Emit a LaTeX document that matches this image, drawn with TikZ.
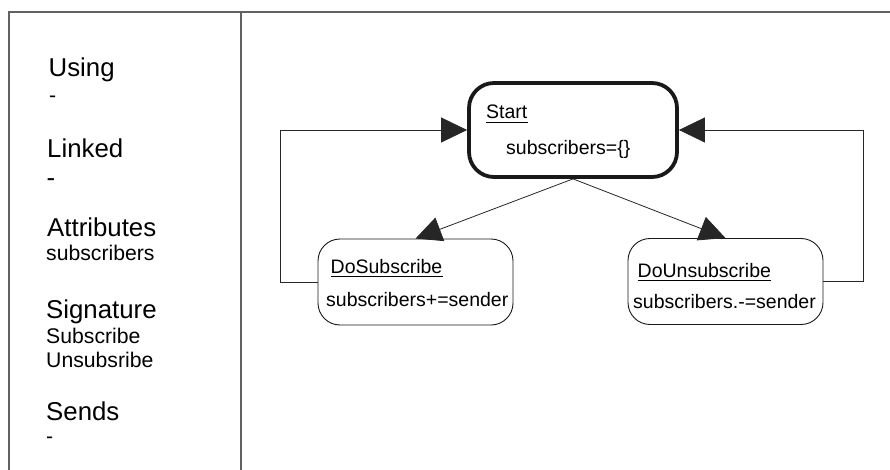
\documentclass[tikz,border=0pt]{standalone}
\usepackage{fontspec}
\setmainfont{Liberation Sans}
\usetikzlibrary{arrows.meta}
\begin{document}
\begin{tikzpicture}[x=1pt,y=-1pt,
  frameline/.style={line width=1.5pt,draw=black!62},
  hdr/.style={anchor=base west,inner sep=0pt,font=\fontsize{25.8}{30}\selectfont},
  sml/.style={anchor=base west,inner sep=0pt,font=\fontsize{21.2}{24}\selectfont},
  btxt/.style={anchor=base west,inner sep=0pt,font=\fontsize{19.5}{23}\selectfont},
  startbox/.style={draw=black!90,line width=3.8pt,rounded corners=25pt,minimum width=208pt,minimum height=94pt,inner sep=0pt},
  statebox/.style={draw=black!90,line width=0.9pt,rounded corners=22pt,minimum width=195pt,minimum height=86pt,inner sep=0pt},
  conn/.style={draw=black!85,line width=0.8pt,-{Triangle[length=26pt,width=25pt]}},
  uline/.style={draw=black,line width=0.9pt}]
\useasboundingbox (0,0) rectangle (890,470);
% frame
\draw[frameline] (9,470) -- (9,12) -- (890,12);
\draw[frameline] (241,12) -- (241,470);
% left panel
\node[hdr] (using) at (48.5,77) {Using};
\node[sml] (usingv) at (49,103) {-};
\node[hdr] (linked) at (47,158) {Linked};
\node[hdr] (linkedv) at (46.5,187) {-};
\node[hdr] (attr) at (47,236) {Attributes};
\node[sml] (attrv) at (46,260) {subscribers};
\node[hdr] (sig) at (46,318) {Signature};
\node[sml] (sig1) at (46,343) {Subscribe};
\node[sml] (sig2) at (46,367) {Unsubsribe};
\node[hdr] (sends) at (46,420) {Sends};
\node[sml] (sendsv) at (46,443.5) {-};
% states
\node[startbox] (start) at (573,130) {};
\node[statebox] (dosub) at (415.5,282) {};
\node[statebox] (dounsub) at (725.5,281.5) {};
\node[btxt] (startt) at (486,119) {Start};
\node[btxt] (starta) at (506,155) {subscribers=\{\}};
\node[btxt] (dosubt) at (330.5,273) {DoSubscribe};
\node[btxt] (dosuba) at (326,306) {subscribers+=sender};
\node[btxt] (dounsubt) at (637.5,277) {DoUnsubscribe};
\node[btxt] (dounsuba) at (633,308) {subscribers.-=sender};
\draw[uline] ([yshift=-3pt]startt.base west) -- ([yshift=-3pt]startt.base east);
\draw[uline] ([yshift=-3pt]dosubt.base west) -- ([yshift=-3pt]dosubt.base east);
\draw[uline] ([yshift=-3pt]dounsubt.base west) -- ([yshift=-3pt]dounsubt.base east);
% connectors
\draw[conn] (start.south) -- (dosub.north);
\draw[conn] (start.south) -- (dounsub.north);
\draw[conn] (dosub.west) -- ++(-37,0) |- (start.west);
\draw[conn] (dounsub.east) -- ++(40,0) |- (start.east);
\end{tikzpicture}
\end{document}
